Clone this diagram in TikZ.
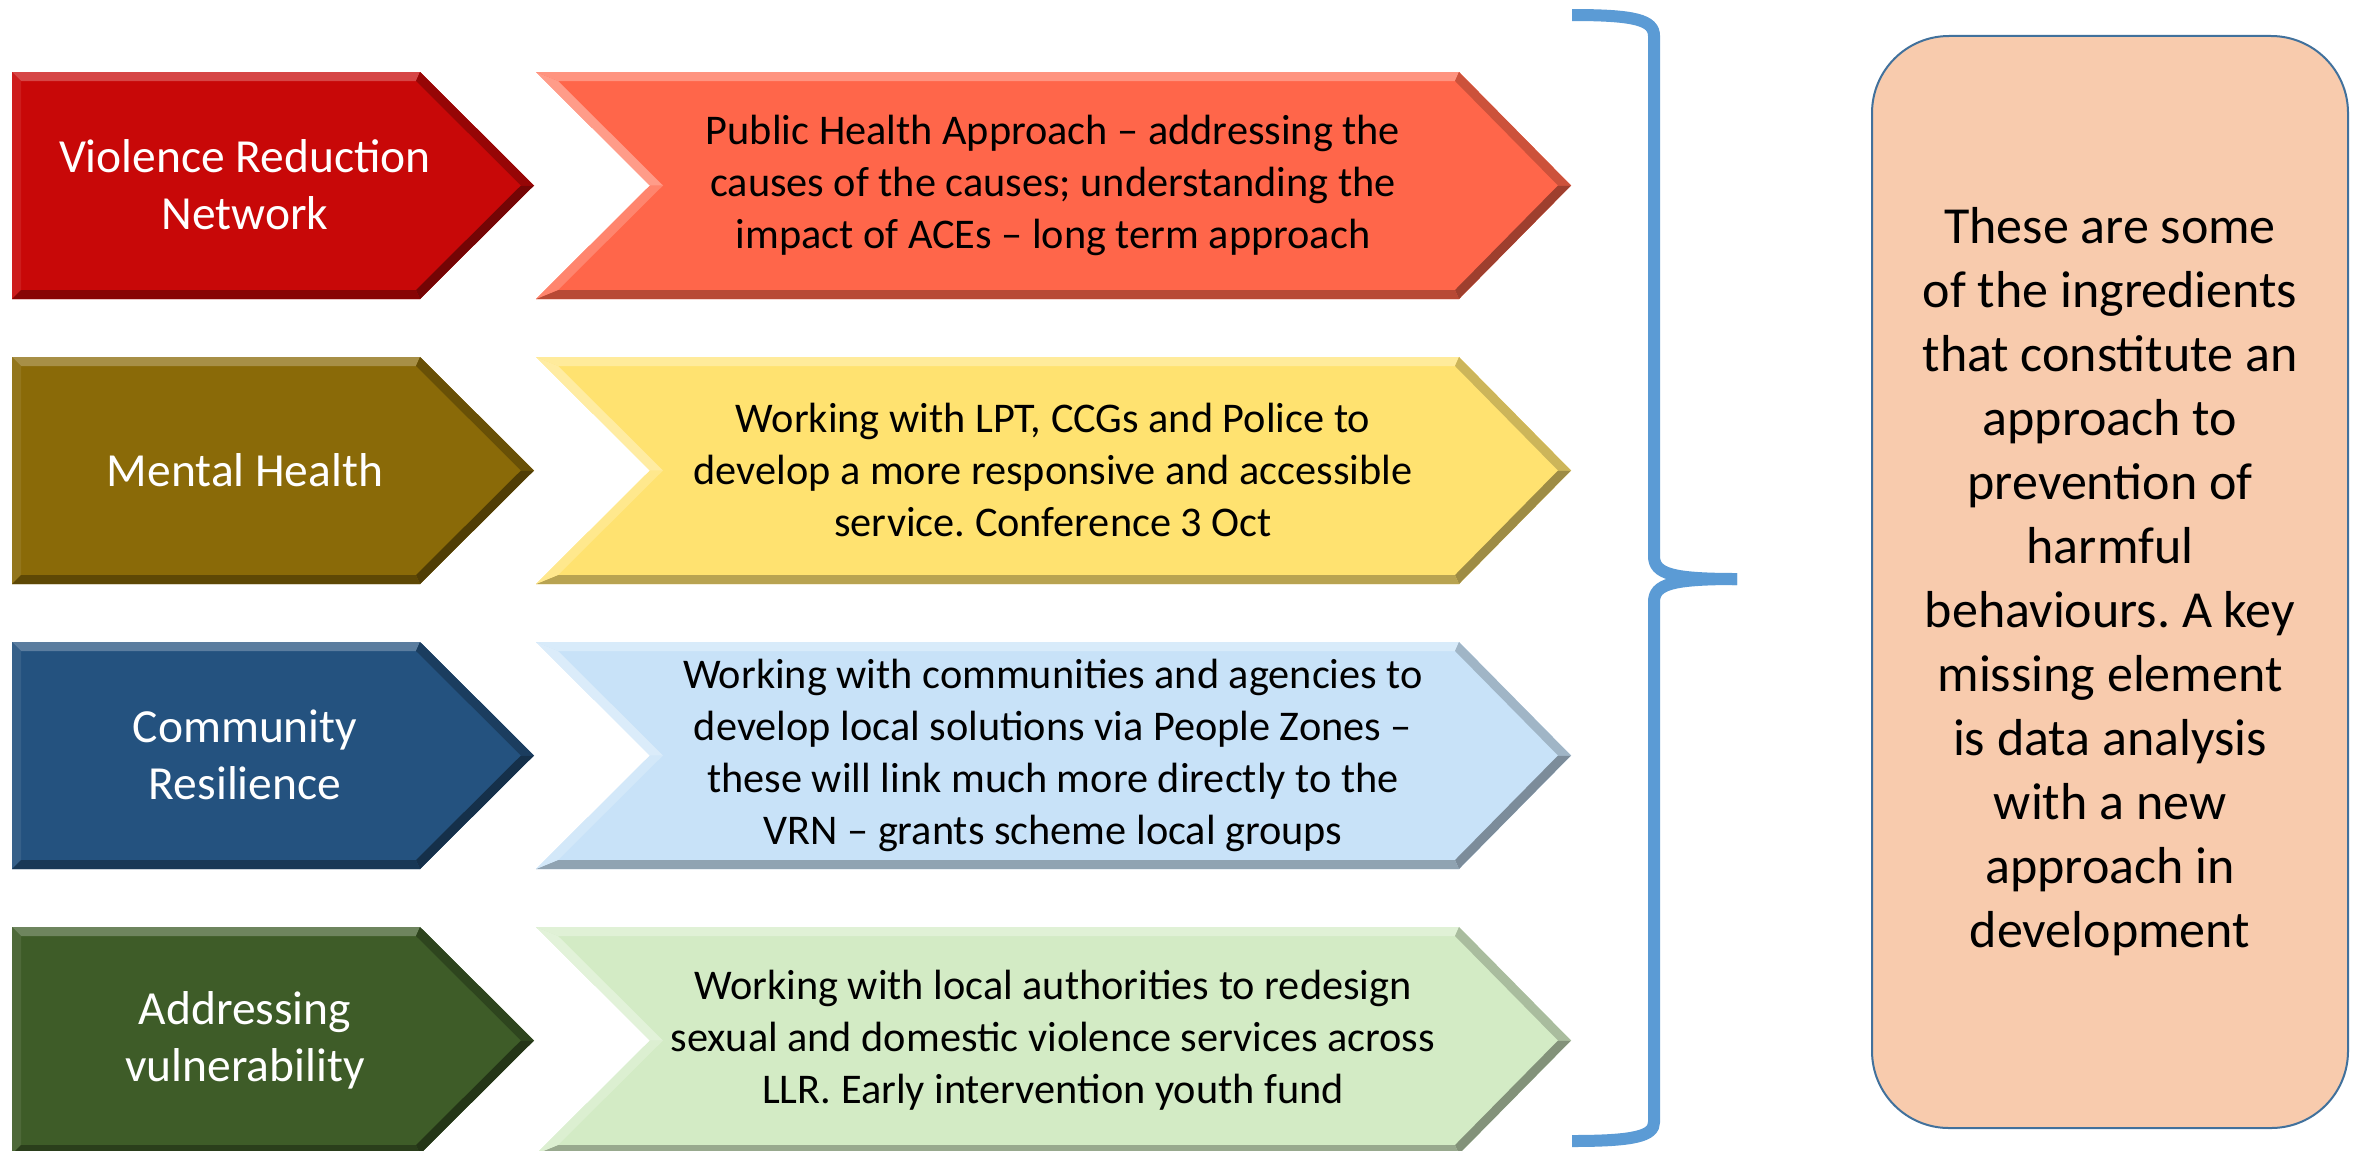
\documentclass[tikz,border=0pt]{standalone}
\usepackage{fontspec}
\setmainfont{Carlito}
\frenchspacing
\definecolor{redA}{RGB}{200,8,8}
\definecolor{redB}{RGB}{255,102,74}
\definecolor{oliveA}{RGB}{138,106,8}
\definecolor{yelB}{RGB}{255,226,112}
\definecolor{blueA}{RGB}{36,82,127}
\definecolor{blueB}{RGB}{200,226,248}
\definecolor{greenA}{RGB}{62,92,40}
\definecolor{greenB}{RGB}{211,235,197}
\definecolor{braceC}{RGB}{91,155,213}
\definecolor{peach}{RGB}{248,203,173}
\definecolor{peachline}{RGB}{65,113,156}
% #1 x0, #2 xc, #3 xt, #4 y0, #5 y1, #6 colour
\newcommand\homeplate[6]{%
  \pgfmathsetmacro\hpm{(#4+#5)/2}%
  \fill[#6] (#1,#4) -- (#2,#4) -- (#3,\hpm) -- (#2,#5) -- (#1,#5) -- cycle;
  \fill[#6!75!white] (#1,#4) -- (#2,#4) -- ({#2-4},{#4+9}) -- ({#1+9},{#4+9}) -- cycle;
  \fill[#6!92!white] (#1,#4) -- ({#1+9},{#4+9}) -- ({#1+9},{#5-9}) -- (#1,#5) -- cycle;
  \fill[#6!75!black] (#2,#4) -- (#3,\hpm) -- ({#3-13},\hpm) -- ({#2-4},{#4+9}) -- cycle;
  \fill[#6!58!black] (#3,\hpm) -- (#2,#5) -- ({#2-4},{#5-9}) -- ({#3-13},\hpm) -- cycle;
  \fill[#6!68!black] (#2,#5) -- (#1,#5) -- ({#1+9},{#5-9}) -- ({#2-4},{#5-9}) -- cycle;
}
% #1 x0, #2 xn, #3 xc, #4 xt, #5 y0, #6 y1, #7 colour
\newcommand\chevronshape[7]{%
  \pgfmathsetmacro\chm{(#5+#6)/2}%
  \fill[#7] (#1,#5) -- (#3,#5) -- (#4,\chm) -- (#3,#6) -- (#1,#6) -- (#2,\chm) -- cycle;
  \fill[#7!70!white] (#1,#5) -- (#3,#5) -- ({#3-4},{#5+9}) -- ({#1+22},{#5+9}) -- cycle;
  \fill[#7!80!black] (#3,#5) -- (#4,\chm) -- ({#4-13},\chm) -- ({#3-4},{#5+9}) -- cycle;
  \fill[#7!62!black] (#4,\chm) -- (#3,#6) -- ({#3-4},{#6-9}) -- ({#4-13},\chm) -- cycle;
  \fill[#7!72!black] (#3,#6) -- (#1,#6) -- ({#1+22},{#6-9}) -- ({#3-4},{#6-9}) -- cycle;
  \fill[#7!80!white] (#1,#6) -- (#2,\chm) -- ({#2+13},\chm) -- ({#1+22},{#6-9}) -- cycle;
  \fill[#7!65!white] (#2,\chm) -- (#1,#5) -- ({#1+22},{#5+9}) -- ({#2+13},\chm) -- cycle;
}
\begin{document}
\begin{tikzpicture}[x=1bp,y=-1bp,
  lab/.style={text=white, align=center, inner sep=0pt,
    font=\fontsize{47.5bp}{57bp}\selectfont},
  desc/.style={text=black, align=center, inner sep=0pt,
    font=\fontsize{42.3bp}{52bp}\selectfont},
  sidebox/.style={draw=peachline, fill=peach, line width=2bp, rounded corners=77bp,
    minimum width=476bp, minimum height=1092bp, align=center, inner sep=0pt,
    font=\fontsize{52bp}{64bp}\selectfont},
  bracestroke/.style={draw=braceC, line width=12bp}]
\useasboundingbox (0,0) rectangle (2358,1150);
\fill[white] (0,0) rectangle (2358,1150);

% row shapes
\homeplate{12}{420}{534}{72}{299}{redA}
\chevronshape{536}{650}{1459}{1571}{72}{299}{redB}
\homeplate{12}{420}{534}{357}{584}{oliveA}
\chevronshape{536}{650}{1459}{1571}{357}{584}{yelB}
\homeplate{12}{420}{534}{642}{869}{blueA}
\chevronshape{536}{650}{1459}{1571}{642}{869}{blueB}
\homeplate{12}{420}{534}{927}{1154}{greenA}
\chevronshape{536}{650}{1459}{1571}{927}{1154}{greenB}

% labels
\node[lab] (l1) at (245,185) {Violence Reduction\\Network};
\node[lab] (l2) at (245,470) {Mental Health};
\node[lab] (l3) at (245,755) {Community\\Resilience};
\node[lab] (l4) at (245,1040) {Addressing\\vulnerability};

\node[desc] (d1) at (1053,185) {Public Health Approach -- addressing the\\causes of the causes; understanding the\\impact of ACEs -- long term approach};
\node[desc] (d2) at (1053,470) {Working with LPT, CCGs and Police to\\develop a more responsive and accessible\\service. Conference 3 Oct};
\node[desc] (d3) at (1053,755) {Working with communities and agencies to\\develop local solutions via People Zones --\\these will link much more directly to the\\VRN -- grants scheme local groups};
\node[desc] (d4) at (1053,1040) {Working with local authorities to redesign\\sexual and domestic violence services across\\LLR. Early intervention youth fund};

% brace
\coordinate (bt) at (1572,15);
\coordinate (bm) at (1737,579);
\coordinate (bb) at (1572,1141);
\draw[bracestroke] (bt) .. controls (1635,15) and (1654,20) .. (1654,36) -- (1654,556)
   .. controls (1654,574) and (1672,579) .. (bm);
\draw[bracestroke] (bm) .. controls (1672,579) and (1654,584) .. (1654,602) -- (1654,1122)
   .. controls (1654,1136) and (1635,1141) .. (bb);

% side box
\node[sidebox] (side) at (2110,582) {These are some\\of the ingredients\\that constitute an\\approach to\\prevention of\\harmful\\behaviours. A key\\missing element\\is data analysis\\with a new\\approach in\\development};
\end{tikzpicture}
\end{document}
